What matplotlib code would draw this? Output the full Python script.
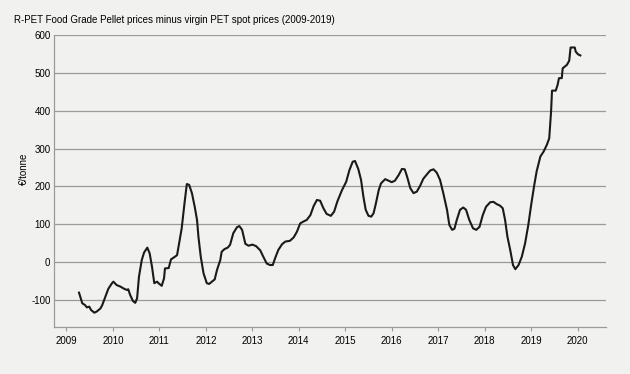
import matplotlib.pyplot as plt

BG = "#f1f2ef"
GRID = "#9a9a9a"

plt.rcParams.update({
    "font.family": ["Liberation Sans", "DejaVu Sans"],
    "font.size": 7,
    "axes.unicode_minus": False,
})

TITLE = "R-PET Food Grade Pellet prices minus virgin PET spot prices (2009-2019)"
YLABEL = "€/tonne"
YEAR_TICKS = list(range(2009, 2021))
VALUE_TICKS = [-100, 0, 100, 200, 300, 400, 500, 600]

# spread (EUR/t), time as decimal year
year = [
    2009.27, 2009.34, 2009.40, 2009.44, 2009.49, 2009.53, 2009.60, 2009.65,
    2009.73, 2009.77, 2009.83, 2009.90, 2009.98, 2010.01, 2010.08, 2010.16,
    2010.23, 2010.30, 2010.33, 2010.37, 2010.43, 2010.48, 2010.52, 2010.56,
    2010.62, 2010.67, 2010.74, 2010.79, 2010.84, 2010.89, 2010.95, 2010.98,
    2011.05, 2011.10, 2011.12, 2011.20, 2011.25, 2011.30, 2011.38, 2011.43,
    2011.48, 2011.54, 2011.59, 2011.64, 2011.70, 2011.76, 2011.81, 2011.84,
    2011.89, 2011.95, 2012.02, 2012.07, 2012.13, 2012.19, 2012.24, 2012.31,
    2012.34, 2012.40, 2012.47, 2012.52, 2012.59, 2012.67, 2012.72, 2012.78,
    2012.85, 2012.92, 2013.00, 2013.08, 2013.17, 2013.24, 2013.31, 2013.38,
    2013.44, 2013.49, 2013.56, 2013.64, 2013.71, 2013.81, 2013.89, 2013.96,
    2014.03, 2014.10, 2014.17, 2014.25, 2014.32, 2014.39, 2014.46, 2014.53,
    2014.60, 2014.69, 2014.76, 2014.83, 2014.93, 2015.02, 2015.09, 2015.16,
    2015.21, 2015.28, 2015.34, 2015.39, 2015.44, 2015.50, 2015.56, 2015.61,
    2015.66, 2015.72, 2015.77, 2015.86, 2015.93, 2016.00, 2016.07, 2016.15,
    2016.22, 2016.28, 2016.33, 2016.40, 2016.47, 2016.54, 2016.61, 2016.68,
    2016.76, 2016.83, 2016.90, 2016.97, 2017.04, 2017.11, 2017.19, 2017.24,
    2017.30, 2017.35, 2017.40, 2017.47, 2017.54, 2017.60, 2017.67, 2017.75,
    2017.82, 2017.89, 2017.96, 2018.03, 2018.12, 2018.19, 2018.26, 2018.33,
    2018.39, 2018.44, 2018.49, 2018.55, 2018.61, 2018.66, 2018.73, 2018.80,
    2018.87, 2018.94, 2019.00, 2019.07, 2019.12, 2019.20, 2019.27, 2019.34,
    2019.39, 2019.41, 2019.43, 2019.45, 2019.53, 2019.57, 2019.60, 2019.66,
    2019.68, 2019.77, 2019.82, 2019.85, 2019.94, 2019.96, 2020.01, 2020.06,
]
spread = [
    -81, -109, -114, -120, -118, -127, -134, -131,
    -123, -114, -94, -71, -56, -52, -61, -65,
    -70, -74, -72, -87, -103, -108, -96, -39,
    5, 25, 38, 23, -12, -56, -52, -56,
    -63, -43, -17, -16, 7, 11, 18, 54,
    89, 155, 206, 204, 182, 146, 111, 67,
    14, -30, -56, -58, -52, -46, -21, 5,
    27, 34, 38, 45, 76, 92, 95, 85,
    48, 43, 46, 42, 31, 13, -4, -8,
    -8, 10, 32, 47, 54, 56, 65, 80,
    102, 107, 111, 124, 148, 164, 162, 142,
    127, 122, 133, 160, 190, 212, 243, 265,
    267, 246, 217, 173, 138, 122, 120, 129,
    155, 190, 208, 219, 215, 211, 215, 230,
    246, 245, 226, 195, 182, 186, 201, 220,
    232, 242, 245, 236, 217, 182, 138, 98,
    85, 88, 111, 138, 144, 138, 111, 89,
    85, 93, 124, 146, 158, 159, 153, 149,
    142, 111, 67, 32, -8, -19, -8, 14,
    49, 98, 150, 205, 240, 279, 292, 310,
    327, 362, 398, 453, 453, 468, 486, 486,
    512, 521, 532, 567, 567, 556, 549, 546,
]

fig = plt.figure(figsize=(6.3, 3.74), dpi=100, facecolor=BG)
ax = fig.add_axes([0.0856, 0.1265, 0.8769, 0.7799], facecolor=BG)

ax.plot(year, spread, color="#1a1a1a", lw=1.5, solid_joinstyle="round")

ax.set_xlim(2008.73, 2020.62)
ax.set_ylim(-171, 600)
ax.set_xticks(YEAR_TICKS)
ax.set_yticks(VALUE_TICKS)
ax.grid(axis="y", color=GRID, lw=0.9)
ax.set_axisbelow(True)

for s in ("top", "right"):
    ax.spines[s].set_visible(False)
for s in ("left", "bottom"):
    ax.spines[s].set_color(GRID)
    ax.spines[s].set_linewidth(0.9)

ax.tick_params(axis="x", length=3, width=0.8, color=GRID, pad=3.5, labelsize=7)
ax.tick_params(axis="y", length=0, pad=2.5, labelsize=7)

ax.set_ylabel(YLABEL, fontsize=7)
ax.yaxis.set_label_coords(-0.045, 0.54)
fig.text(0.022, 0.947, TITLE, fontsize=7, ha="left", va="center")

fig.savefig("out.png", dpi=100, facecolor=BG)
